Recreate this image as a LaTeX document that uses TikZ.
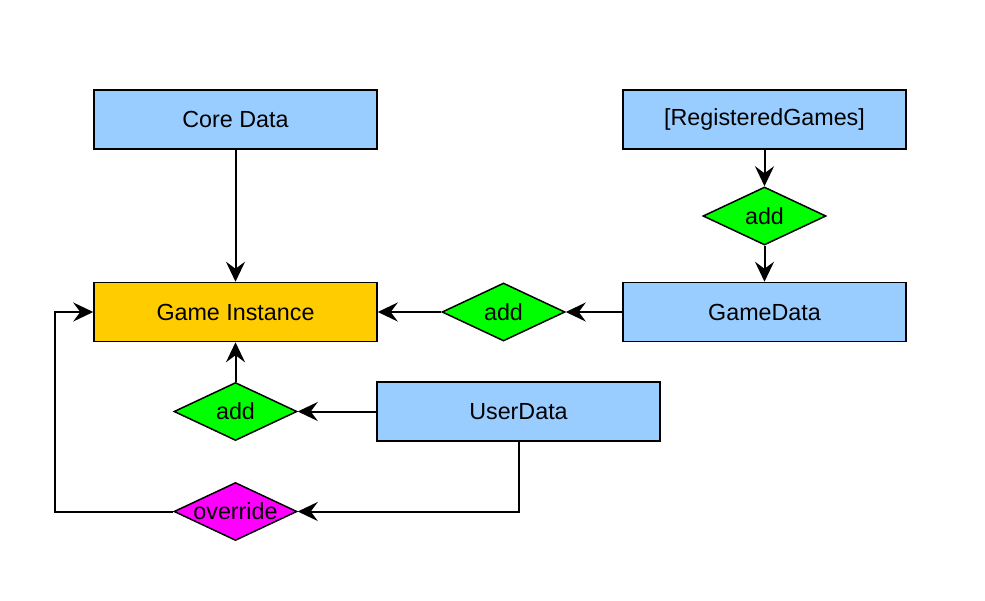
\documentclass[tikz,border=0pt]{standalone}
\usepackage{fontspec}
\setmainfont{Liberation Sans}
\usetikzlibrary{arrows.meta,shapes.geometric}
\definecolor{boxblue}{HTML}{99CCFF}
\definecolor{boxorange}{HTML}{FFCC00}
\definecolor{dgreen}{HTML}{00FF00}
\definecolor{dmagenta}{HTML}{FF00FF}
\begin{document}
\begin{tikzpicture}[x=1pt,y=-1pt,
  every node/.style={font=\fontsize{23.3}{27}\selectfont, text=black},
  datbox/.style={draw=black, line width=1.5pt, fill=boxblue, minimum width=283pt, minimum height=59pt, inner sep=0pt},
  dec/.style={diamond, draw=black, line width=1.5pt, fill=dgreen, minimum width=123pt, minimum height=58pt, inner sep=0pt, aspect=2.1},
  conn/.style={line width=2pt, -{Stealth[length=20pt,width=19pt,inset=7pt]}},
  plain/.style={line width=2pt}]
\useasboundingbox (0,0) rectangle (985,600);
\fill[white] (0,0) rectangle (985,600);
\node[datbox] (core) at (235.5,119.5) {Core Data};
\node[datbox] (reg) at (764.5,119.5) {[RegisteredGames]};
\node[datbox, fill=boxorange] (gi) at (235.5,312) {Game Instance};
\node[datbox] (gd) at (764.5,312) {GameData};
\node[datbox] (ud) at (518.5,411.5) {UserData};
\node[dec] (add1) at (764.5,216) {add};
\node[dec] (add2) at (503.5,312) {add};
\node[dec] (add3) at (235.5,411.5) {add};
\node[dec, fill=dmagenta] (ovr) at (235.5,511.5) {override};
\coordinate (c1) at (55,511.5);
\coordinate (c2) at (55,312);
\coordinate (c3) at (518.5,511.5);
\draw[conn] (core) -- (gi);
\draw[conn] (reg) -- (add1);
\draw[conn] (add1) -- (gd);
\draw[conn] (gd) -- (add2);
\draw[conn] (add2) -- (gi);
\draw[conn] (ud) -- (add3);
\draw[conn] (add3) -- (gi);
\draw[conn] (ud.south) -- (c3) -- (ovr.east);
\draw[conn] (ovr.west) -- (c1) -- (c2) -- (gi.west);
\end{tikzpicture}
\end{document}
